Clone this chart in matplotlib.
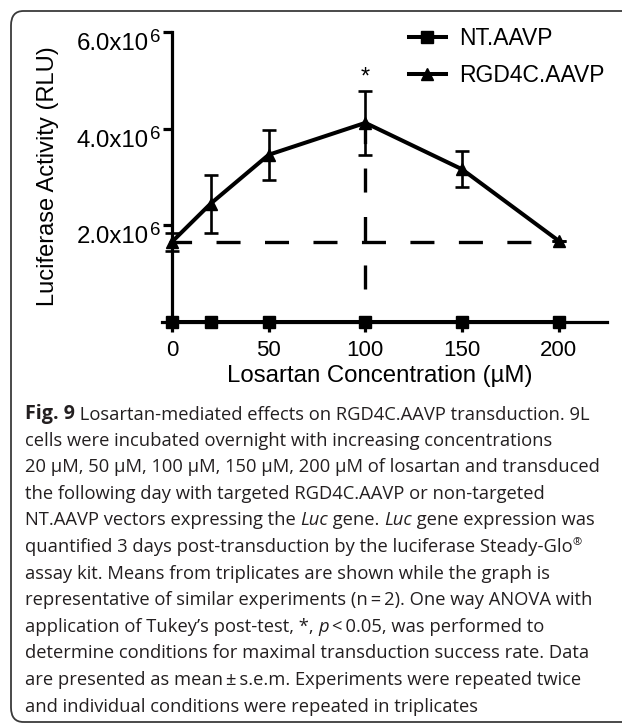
import matplotlib
matplotlib.use("Agg")
import matplotlib.pyplot as plt
from matplotlib.patches import FancyBboxPatch
from matplotlib.lines import Line2D

plt.rcParams['font.family'] = ['Liberation Sans', 'DejaVu Sans']
plt.rcParams['lines.scale_dashes'] = False

# data
conc = [0, 20, 50, 100, 150, 200]
nt_aavp = [0, 0, 0, 0, 0, 0]
rgd4c = [1.66e6, 2.45e6, 3.46e6, 4.12e6, 3.16e6, 1.68e6]
rgd4c_err = [0.19e6, 0.60e6, 0.52e6, 0.66e6, 0.37e6, 0.0]
xticks = [0, 50, 100, 150, 200]
yticks = [2e6, 4e6, 6e6]
ytick_main = ['2.0x10', '4.0x10', '6.0x10']
ytick_exp = ['6', '6', '6']
baseline_level = 1.66e6          # horizontal dashed reference
vline_x = 100
vline_y = [0.68e6, 4.12e6]       # vertical dashed reference

W, H = 622, 724
fig = plt.figure(figsize=(W / 100, H / 100), dpi=100)

# rounded frame (right side runs off the image)
frame = FancyBboxPatch((11 / W, 1 - 722 / H), 700 / W, 711 / H,
                       boxstyle="round,pad=0,rounding_size=0.02",
                       transform=fig.transFigure, fill=False,
                       edgecolor='#3a3a3a', linewidth=1.3)
fig.patches.append(frame)

ax = fig.add_axes([162 / W, 1 - 322 / H, 445 / W, 290 / H])
ax.set_xlim(-5.2, 225)
ax.set_ylim(0, 6e6)
for s in ['top', 'right']:
    ax.spines[s].set_visible(False)
ax.spines['left'].set_position(('data', 0))
ax.spines['left'].set_linewidth(2.3)
ax.spines['bottom'].set_linewidth(2.3)

ax.set_xticks(xticks)
ax.set_xticklabels([str(v) for v in xticks])
ax.set_yticks(yticks)
ax.set_yticklabels([])
ax.tick_params(axis='x', length=7, width=2.3, pad=6, labelsize=16)
ax.tick_params(axis='y', length=6.5, width=2.3)

# y tick labels written as "N.0x10" + raised exponent
for yv, main, ex in zip(yticks, ytick_main, ytick_exp):
    ax.annotate(ex, xy=(0, yv), xytext=(-12, -10), textcoords='offset pixels',
                ha='right', va='baseline', fontsize=13.5)
    ax.annotate(main, xy=(0, yv), xytext=(-23, -18), textcoords='offset pixels',
                ha='right', va='baseline', fontsize=17.3)

# dashed reference lines
ax.plot([0, 200], [baseline_level, baseline_level], color='black', lw=2.4,
        linestyle=(3.2, (17.3, 17.6)), zorder=2)
ax.plot([vline_x, vline_x], vline_y, color='black', lw=2.4,
        linestyle=(0, (17.3, 17.6)), zorder=2)

ax.plot(conc, nt_aavp, color='black', lw=2.9, marker='s', ms=8.5,
        clip_on=False, zorder=4)
ax.errorbar(conc, rgd4c, yerr=rgd4c_err, color='black', lw=2.9, marker='^',
            ms=8, elinewidth=1.9, capsize=5.3, capthick=1.9, zorder=5)

ax.text(100, 5.05e6, '*', ha='center', va='center', fontsize=17)

# legend
handles = [Line2D([], [], color='black', lw=2.9, marker='s', ms=8.5),
           Line2D([], [], color='black', lw=2.9, marker='^', ms=8)]
fig.legend(handles, ['NT.AAVP', 'RGD4C.AAVP'], loc='upper left',
           bbox_to_anchor=(409 / W, 1 - 27 / H), frameon=False, fontsize=16.5,
           handlelength=1.6, handletextpad=0.6, labelspacing=0.6,
           borderpad=0, borderaxespad=0)

fig.text(48 / W, 1 - 176 / H, 'Luciferase Activity (RLU)', rotation=90,
         ha='center', va='center', fontsize=17)
fig.text(380 / W, 1 - 376 / H, 'Losartan Concentration (\u00b5M)',
         ha='center', va='center', fontsize=17.3)

# caption
caption = [
    [('Fig. 9', 'bold'), (' Losartan-mediated effects on RGD4C.AAVP transduction. 9L', '')],
    [('cells were incubated overnight with increasing concentrations', '')],
    [('20 \u00b5M, 50 \u00b5M, 100 \u00b5M, 150 \u00b5M, 200 \u00b5M of losartan and transduced', '')],
    [('the following day with targeted RGD4C.AAVP or non-targeted', '')],
    [('NT.AAVP vectors expressing the ', ''), ('Luc', 'italic'), (' gene. ', ''),
     ('Luc', 'italic'), (' gene expression was', '')],
    [('quantified 3 days post-transduction by the luciferase Steady-Glo', ''), ('\u00ae', 'sup')],
    [('assay kit. Means from triplicates are shown while the graph is', '')],
    [('representative of similar experiments (n\u2009=\u20092). One way ANOVA with', '')],
    [('application of Tukey\u2019s post-test, *, ', ''), ('p', 'italic'),
     ('\u2009<\u20090.05, was performed to', '')],
    [('determine conditions for maximal transduction success rate. Data', '')],
    [('are presented as mean\u2009\u00b1\u2009s.e.m. Experiments were repeated twice', '')],
    [('and individual conditions were repeated in triplicates', '')],
]
cap_size = 13.2
cap_font = ['Open Sans', 'DejaVu Sans']
x0 = 25 / W
for i, line in enumerate(caption):
    yb = 1 - (419 + 26.6 * i) / H
    prev = None
    for txt, style in line:
        kw = dict(fontsize=cap_size, family=cap_font, color='#231f20')
        if style == 'bold':
            kw['weight'] = 'bold'
            kw['fontsize'] = cap_size * 1.08
        if style == 'italic':
            kw['style'] = 'italic'
        if style == 'sup':
            kw['fontsize'] = cap_size * 0.6
        if prev is None:
            prev = fig.text(x0, yb, txt, ha='left', va='baseline', **kw)
        else:
            yoff = 0.45 if style == 'sup' else 0
            prev = ax.annotate(txt, xy=(1, yoff), xycoords=prev,
                               ha='left', va='bottom', annotation_clip=False, **kw)

fig.savefig('out.png', dpi=100)
